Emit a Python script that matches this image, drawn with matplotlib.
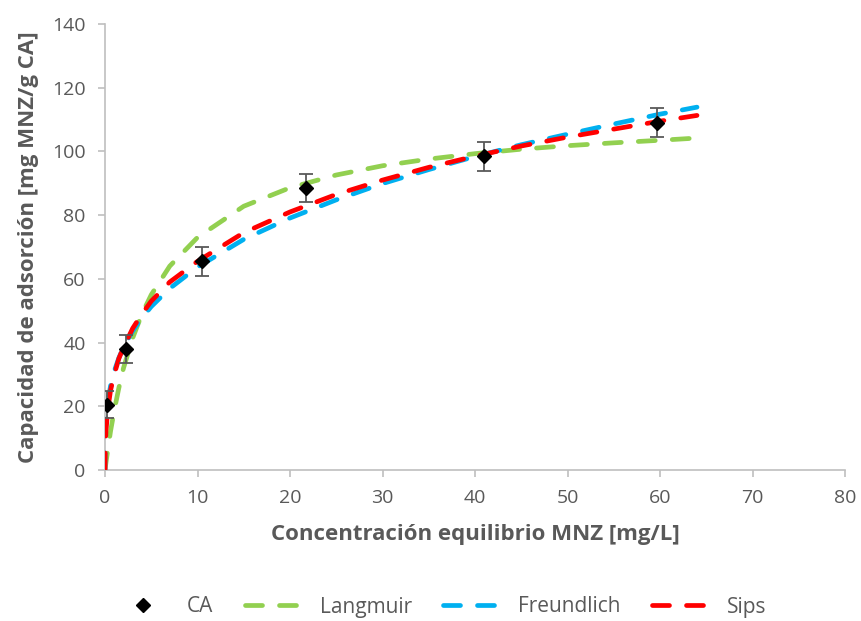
import matplotlib
matplotlib.use("Agg")
import matplotlib.pyplot as plt

# Experimental data (CA)
ca_x = [0.2, 2.3, 10.5, 21.7, 41.0, 59.7]
ca_y = [20.5, 38.0, 65.5, 88.5, 98.5, 109.0]
ca_err = [4.3, 4.3, 4.5, 4.5, 4.5, 4.5]

# Model curves
curve_x = [0, 0.02, 0.1, 0.3, 0.6, 1, 1.5, 2, 3, 4, 5, 7, 10, 15, 20, 25, 30,
           35, 40, 45, 50, 55, 60, 64]
langmuir_y = [0, 0.5, 2.2, 6.3, 12.2, 18.7, 25.8, 32.0, 41.5, 49.0, 55.0, 64.0,
              73.0, 82.8, 88.6, 92.6, 95.5, 97.6, 99.3, 100.7, 101.8, 102.7,
              103.5, 104.2]
freundlich_y = [0, 9.1, 15.1, 21.3, 26.4, 31.0, 35.2, 38.5, 43.7, 47.8, 51.3,
                57.0, 63.7, 72.4, 79.1, 84.8, 89.9, 94.3, 98.4, 102.1, 105.4,
                108.6, 111.7, 113.9]
sips_y = [0, 5.0, 12.0, 19.0, 25.0, 30.0, 35.0, 38.5, 44.5, 49.0, 53.0, 59.0,
          65.5, 74.5, 81.0, 86.5, 91.0, 95.0, 98.5, 101.7, 104.5, 107.0,
          109.5, 111.3]

x_ticks = [0, 10, 20, 30, 40, 50, 60, 70, 80]
y_ticks = [0, 20, 40, 60, 80, 100, 120, 140]

plt.rcParams['font.family'] = ['Open Sans', 'DejaVu Sans']
gray = '#595959'
spine = '#bfbfbf'

fig = plt.figure(figsize=(8.61, 6.21), dpi=100)
ax = fig.add_axes([105/861, 1-470/621, (845-105)/861, (470-24)/621])

lw = 3.4
dash = (3.6, 3.6)
l1, = ax.plot(curve_x, langmuir_y, color='#92d050', lw=lw, dashes=dash,
              dash_capstyle='round', label='Langmuir', zorder=2)
l2, = ax.plot(curve_x, freundlich_y, color='#00b0f0', lw=lw, dashes=dash,
              dash_capstyle='round', label='Freundlich', zorder=3)
l3, = ax.plot(curve_x, sips_y, color='#ff0000', lw=lw, dashes=dash,
              dash_capstyle='round', label='Sips', zorder=4)
eb = ax.errorbar(ca_x, ca_y, yerr=ca_err, fmt='D', color='black', ms=7.5,
                 ecolor=gray, elinewidth=1.3, capsize=5, capthick=1.3,
                 label='CA', zorder=5)

ax.set_xlim(0, 80)
ax.set_ylim(0, 140)
ax.set_xticks(x_ticks)
ax.set_yticks(y_ticks)
for s in ['top', 'right']:
    ax.spines[s].set_visible(False)
for s in ['left', 'bottom']:
    ax.spines[s].set_color(spine)
    ax.spines[s].set_linewidth(1.2)
ax.tick_params(axis='both', colors=spine, labelcolor=gray, labelsize=14,
               length=5, width=1.2, direction='out', pad=9)

ax.set_xlabel('Concentración equilibrio MNZ [mg/L]', fontsize=16,
              fontweight='bold', color=gray, labelpad=12)
ax.set_ylabel('Capacidad de adsorción [mg MNZ/g CA]', fontsize=16,
              fontweight='bold', color=gray, labelpad=9)

handles = [eb[0], l1, l2, l3]
labels = ['CA', 'Langmuir', 'Freundlich', 'Sips']
leg = fig.legend(handles, labels, loc='center', bbox_to_anchor=(0.51, 1 - 607/621),
                 ncol=4, frameon=False, fontsize=15, handlelength=3.0,
                 columnspacing=1.5, handletextpad=0.6)
for t in leg.get_texts():
    t.set_color(gray)

fig.savefig('out.png', dpi=100)
